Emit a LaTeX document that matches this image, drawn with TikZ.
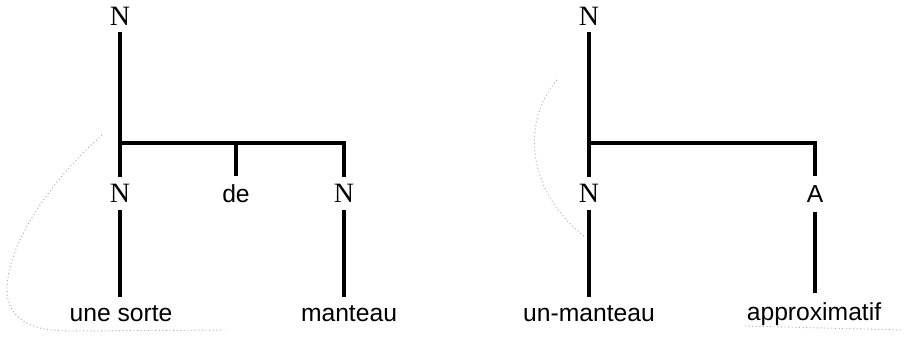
\documentclass[tikz,border=0pt]{standalone}
\usepackage{fontspec}
\setmainfont{Liberation Sans}
\newfontfamily\catfont{Liberation Serif}
\begin{document}
\begin{tikzpicture}[x=0.75pt,y=-0.75pt,
  tree/.style={line width=2.4pt},
  cat/.style={font=\catfont\fontsize{21}{21}\selectfont, inner sep=0pt, outer sep=5.5pt},
  wordlab/.style={font=\fontsize{18.5}{18.5}\selectfont, inner sep=0pt, outer sep=7pt},
  faint/.style={dotted, gray!70, line width=0.7pt}]
\useasboundingbox (0,0) rectangle (905,349);
% left tree
\node[cat] (nL) at (120,16) {N};
\coordinate (jL) at (120,143);
\node[cat] (nL1) at (120,193) {N};
\node[wordlab] (deL) at (236,194) {de};
\node[cat] (nL2) at (344,193) {N};
\node[wordlab] (wL1) at (121,314) {une sorte};
\node[wordlab] (wL2) at (349,314) {manteau};
\draw[tree] (nL.south) -- (nL1.north);
\draw[tree] (jL) -| (nL2.north);
\draw[tree] (deL.north |- jL) -- (deL.north);
\draw[tree] (nL1.south) -- (wL1.north -| nL1.south);
\draw[tree] (nL2.south) -- (wL2.north -| nL2.south);
% right tree
\node[cat] (nR) at (589,16) {N};
\coordinate (jR) at (589,143);
\node[cat] (nR1) at (589,193) {N};
\node[wordlab] (aR) at (815,194) {A};
\node[wordlab] (wR1) at (589,314) {un-manteau};
\node[wordlab] (wR2) at (814,314) {approximatif};
\draw[tree] (nR.south) -- (nR1.north);
\draw[tree] (jR) -| (aR.north);
\draw[tree] (nR1.south) -- (wR1.north -| nR1.south);
\draw[tree] (aR.south) -- (wR2.north -| aR.south);
% faint dotted traces
\coordinate (cL0) at (102,135);
\coordinate (cL1) at (8,300);
\coordinate (cL2) at (70,331);
\coordinate (cL3) at (225,330);
\draw[faint] (cL0) .. controls (40,190) and (0,260) .. (cL1) .. controls (15,325) and (40,331) .. (cL2) -- (cL3);
\coordinate (cR0) at (557,80);
\coordinate (cR1) at (585,237);
\draw[faint] (cR0) .. controls (522,120) and (525,190) .. (cR1);
\coordinate (cR2) at (745,326);
\coordinate (cR3) at (903,330);
\draw[faint] (cR2) -- (cR3);
\end{tikzpicture}
\end{document}
